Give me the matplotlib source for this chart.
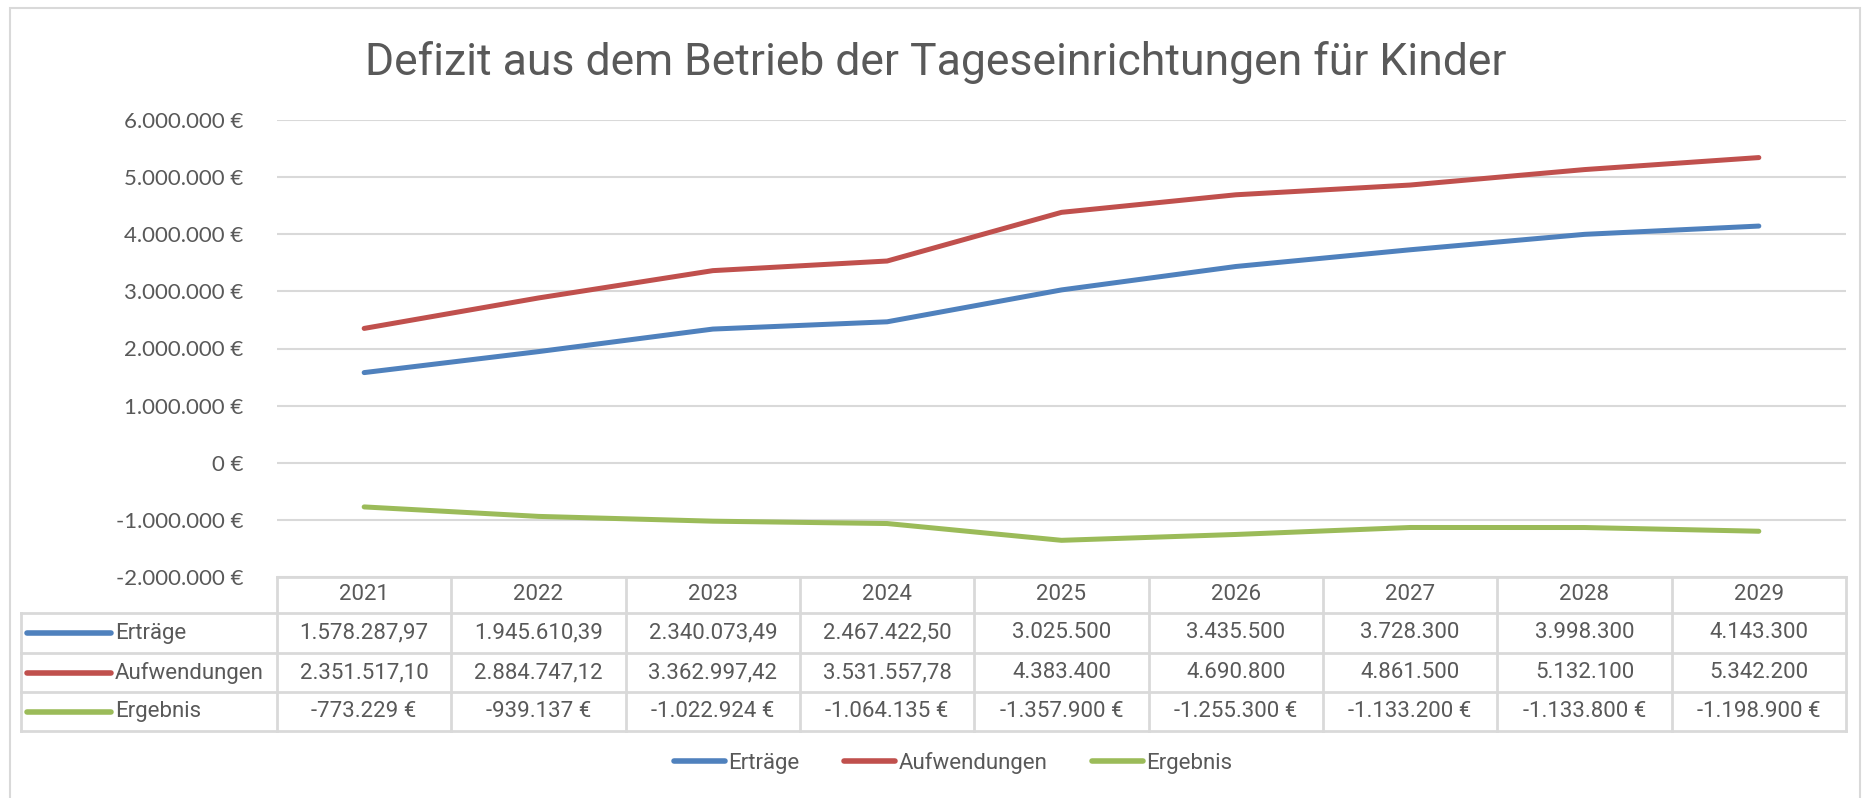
import matplotlib
matplotlib.use("agg")
import matplotlib.pyplot as plt
from matplotlib.lines import Line2D
from matplotlib.patches import Rectangle
from matplotlib.ticker import FuncFormatter

# Data
years = ["2021", "2022", "2023", "2024", "2025", "2026", "2027", "2028", "2029"]
ertraege = [1578287.97, 1945610.39, 2340073.49, 2467422.50, 3025500, 3435500, 3728300, 3998300, 4143300]
aufwendungen = [2351517.10, 2884747.12, 3362997.42, 3531557.78, 4383400, 4690800, 4861500, 5132100, 5342200]
ergebnis = [-773229, -939137, -1022924, -1064135, -1357900, -1255300, -1133200, -1133800, -1198900]

ertraege_txt = ["1.578.287,97", "1.945.610,39", "2.340.073,49", "2.467.422,50", "3.025.500",
                "3.435.500", "3.728.300", "3.998.300", "4.143.300"]
aufwendungen_txt = ["2.351.517,10", "2.884.747,12", "3.362.997,42", "3.531.557,78", "4.383.400",
                    "4.690.800", "4.861.500", "5.132.100", "5.342.200"]
ergebnis_txt = ["-773.229 €", "-939.137 €", "-1.022.924 €", "-1.064.135 €", "-1.357.900 €",
                "-1.255.300 €", "-1.133.200 €", "-1.133.800 €", "-1.198.900 €"]

series_names = ["Erträge", "Aufwendungen", "Ergebnis"]
colors = ["#4F81BD", "#C0504D", "#9BBB59"]

W, H = 1870, 798
text_col = "#595959"
grid_col = "#D9D9D9"
narrow = ["Roboto", "DejaVu Sans"]

fig = plt.figure(figsize=(W / 100, H / 100), dpi=100)

# outer border
fig.patches.append(Rectangle((10 / W, -0.01), (1860 - 10) / W, 1 - 8 / H + 0.01,
                             transform=fig.transFigure, fill=False,
                             edgecolor=grid_col, linewidth=1.5))

# plot area
left, right, top, bottom = 277, 1846, 120, 577
ax = fig.add_axes([left / W, 1 - bottom / H, (right - left) / W, (bottom - top) / H])

x = range(len(years))
for vals, name, c in zip([ertraege, aufwendungen, ergebnis], series_names, colors):
    ax.plot(x, vals, color=c, linewidth=3.6, solid_capstyle="round", label=name)

ax.set_xlim(-0.5, len(years) - 0.5)
ax.set_ylim(-2000000, 6000000)
ax.set_yticks(range(-2000000, 6000001, 1000000))
ax.yaxis.set_major_formatter(FuncFormatter(lambda v, p: f"{int(v):,} €".replace(",", ".")))
ax.grid(axis="y", color=grid_col, linewidth=1.5)
ax.set_axisbelow(True)
for s in ax.spines.values():
    s.set_visible(False)
ax.tick_params(axis="y", length=0, pad=24, labelsize=16, labelcolor=text_col)
for lbl in ax.get_yticklabels():
    lbl.set_fontfamily(["Lato", "DejaVu Sans"])
ax.set_xticks([])


def fy(py):
    return 1 - py / H


fig.text(936 / W, fy(62), "Defizit aus dem Betrieb der Tageseinrichtungen für Kinder",
         fontsize=32, color=text_col, family=narrow, ha="center", va="center")

# data table below the plot
row_edges = [577, 613, 653, 692, 731]
tbl_left = 21
tr = matplotlib.transforms.blended_transform_factory(ax.transData, fig.transFigure)
ft = fig.transFigure

lw = 2
# horizontal lines
fig.add_artist(Line2D([left / W, right / W], [fy(row_edges[0])] * 2, transform=ft, color=grid_col, lw=lw))
for py in row_edges[1:]:
    fig.add_artist(Line2D([tbl_left / W, right / W], [fy(py)] * 2, transform=ft, color=grid_col, lw=lw))
# vertical lines
fig.add_artist(Line2D([tbl_left / W] * 2, [fy(row_edges[1]), fy(row_edges[-1])], transform=ft, color=grid_col, lw=lw))
for i in range(len(years) + 1):
    ax.add_artist(Line2D([i - 0.5, i - 0.5], [fy(row_edges[0]), fy(row_edges[-1])], transform=tr,
                         color=grid_col, lw=lw, clip_on=False))

tkw = dict(fontsize=16, color=text_col, family=narrow, ha="center", va="center", clip_on=False)
hdr_y = fy((row_edges[0] + row_edges[1]) / 2)
for i, yr in enumerate(years):
    ax.text(i, hdr_y, yr, transform=tr, **tkw)

for r, (name, c, txts) in enumerate(zip(series_names, colors, [ertraege_txt, aufwendungen_txt, ergebnis_txt])):
    yc = fy((row_edges[r + 1] + row_edges[r + 2]) / 2)
    fig.add_artist(Line2D([27 / W, 111 / W], [yc, yc], transform=ft, color=c, lw=4, solid_capstyle="round"))
    fig.text(115 / W, yc, name, fontsize=16, color=text_col, family=narrow, ha="left", va="center")
    for i, t in enumerate(txts):
        ax.text(i, yc, t, transform=tr, **tkw)

# legend
handles = [Line2D([], [], color=c, lw=4, solid_capstyle="round") for c in colors]
leg = fig.legend(handles, series_names, loc="center", bbox_to_anchor=(953 / W, fy(763)), ncol=3,
                 frameon=False, handlelength=2.3, handletextpad=0.15, columnspacing=2.0,
                 prop={"family": narrow, "size": 16})
for t in leg.get_texts():
    t.set_color(text_col)

fig.savefig("out.png", dpi=100)
